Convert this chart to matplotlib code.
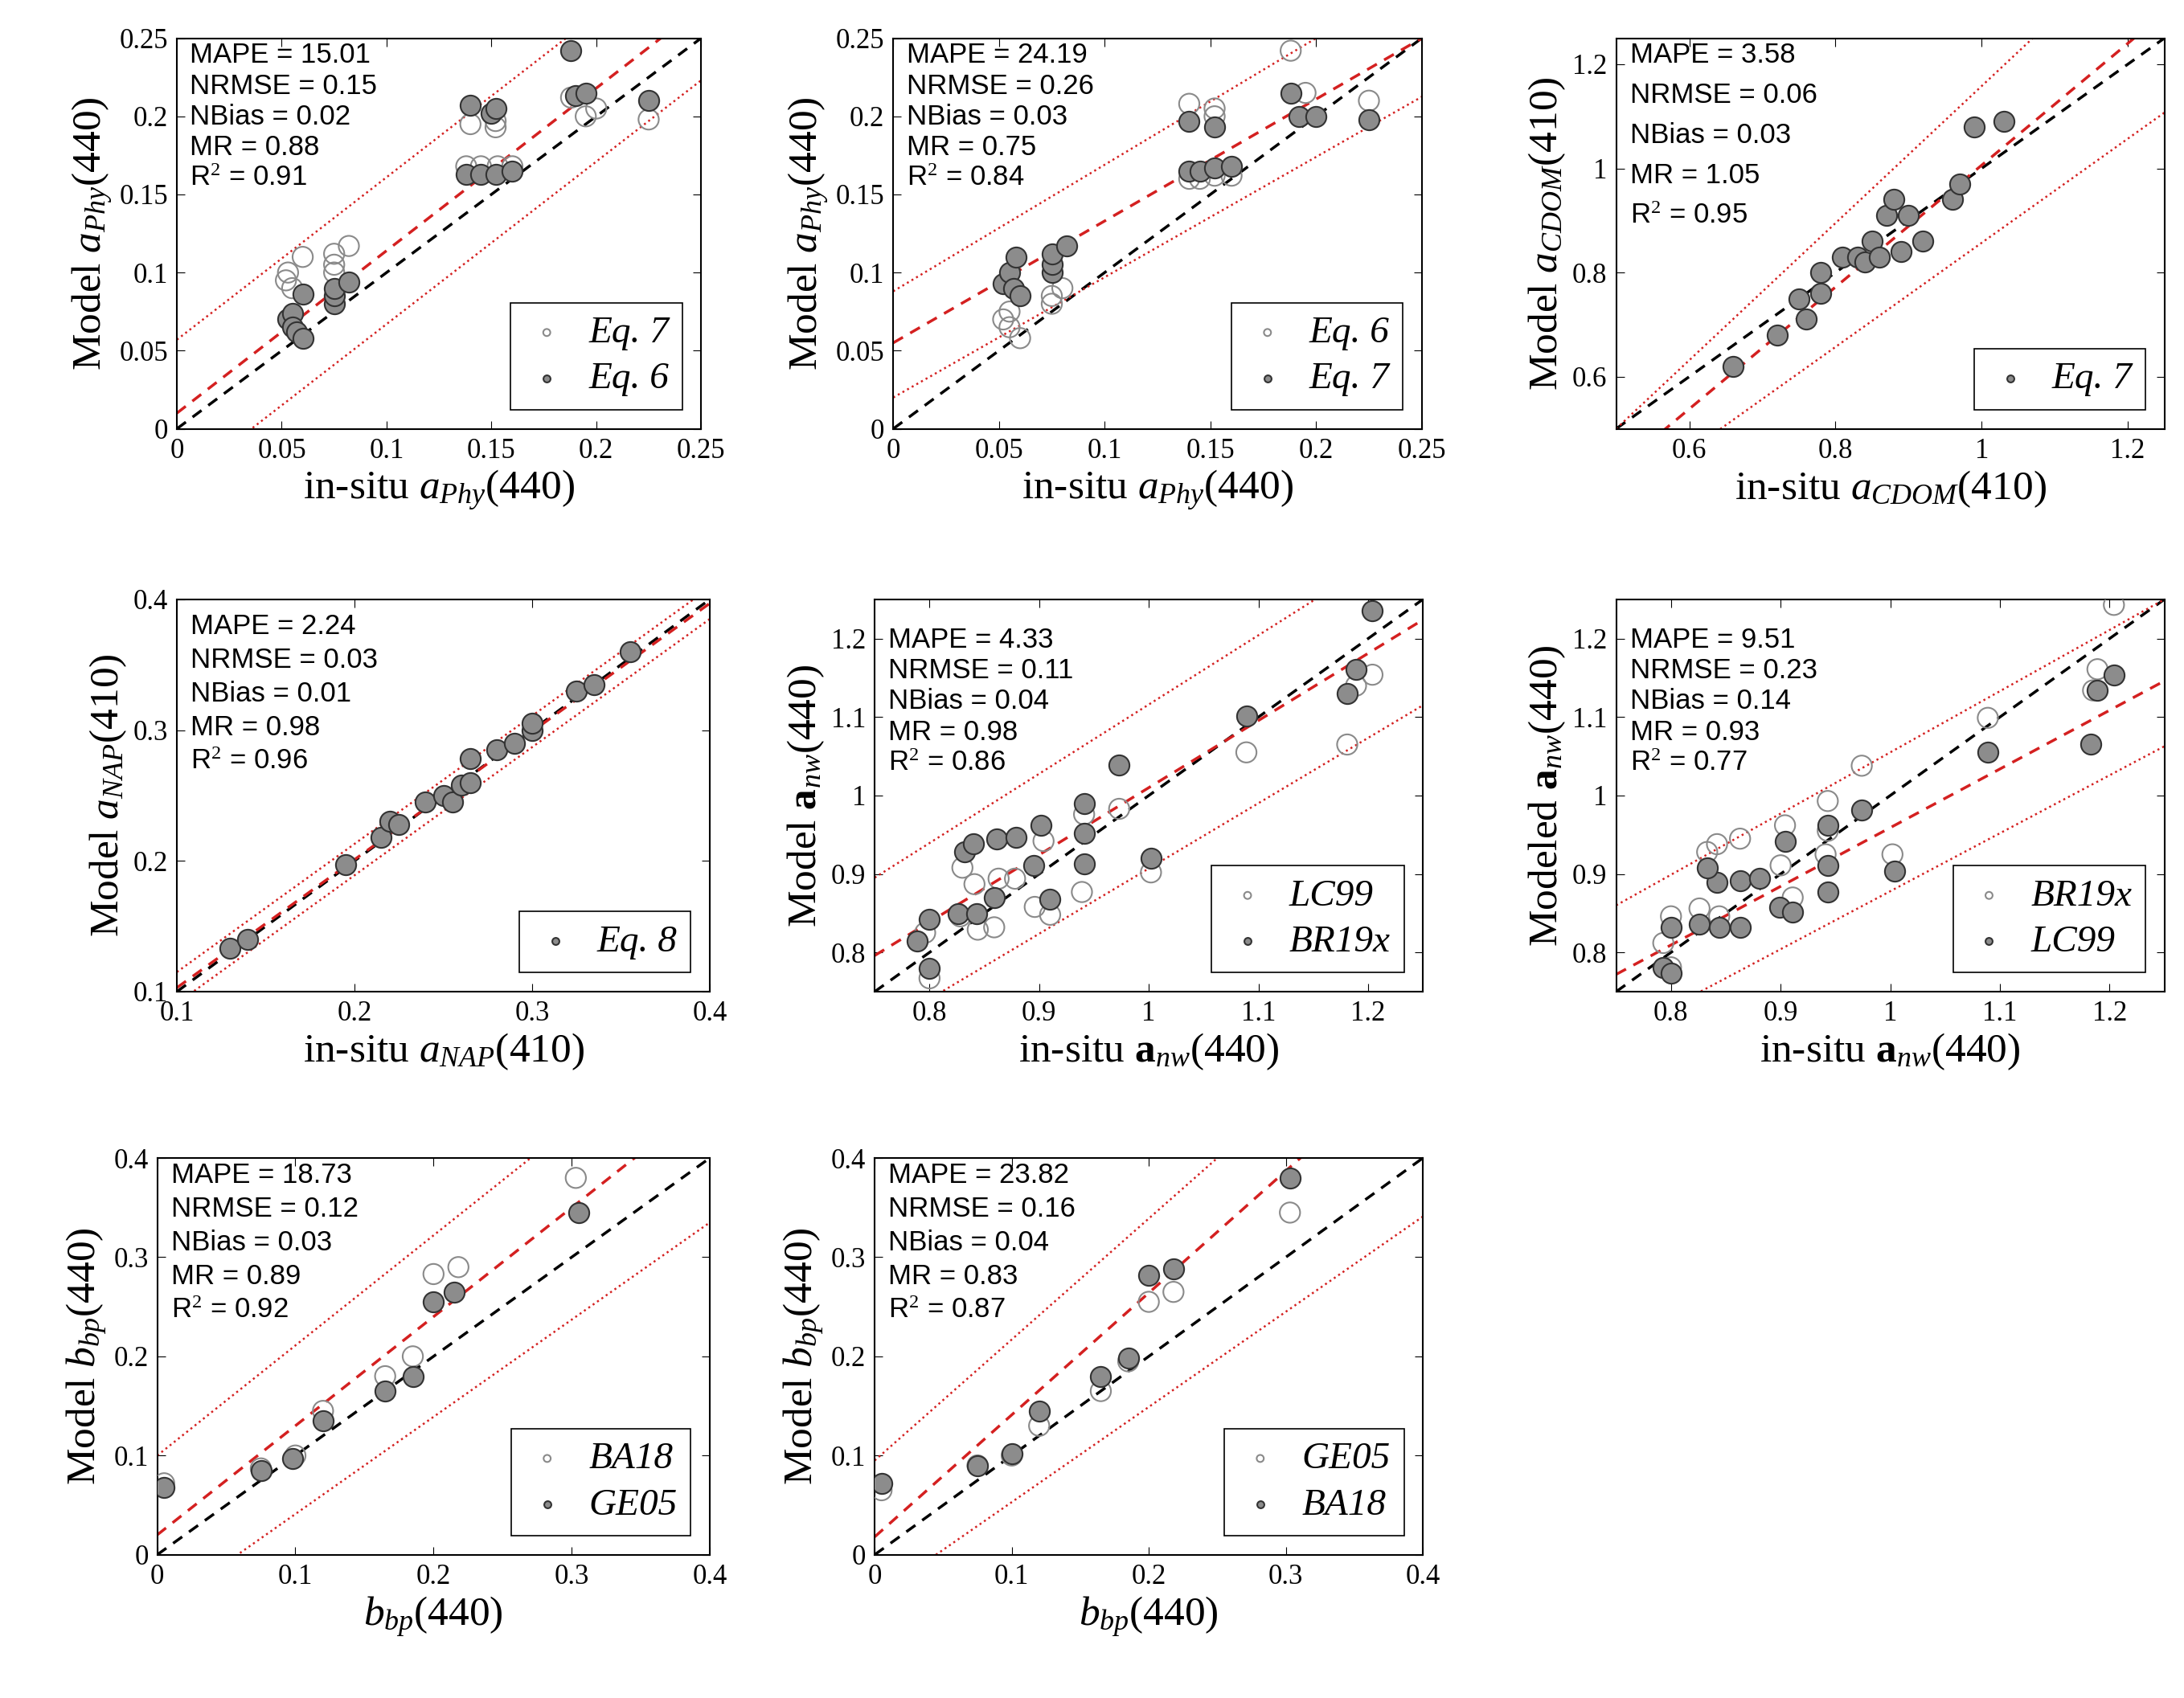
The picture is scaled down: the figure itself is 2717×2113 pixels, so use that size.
import matplotlib
matplotlib.use("Agg")
import matplotlib.pyplot as plt
import numpy as np

plt.rcParams["mathtext.fontset"] = "custom"
plt.rcParams["mathtext.rm"] = "Liberation Serif"
plt.rcParams["mathtext.it"] = "Liberation Serif:italic"
plt.rcParams["mathtext.bf"] = "Liberation Serif:bold"
plt.rcParams["font.family"] = "Liberation Serif"

# ---- panel 1: a_Phy(440), Eq.7 open / Eq.6 filled
p1_open_x = [0.052, 0.053, 0.055, 0.060, 0.075, 0.075, 0.075, 0.082, 0.138, 0.145, 0.153, 0.160, 0.140, 0.152, 0.152, 0.188, 0.195, 0.225, 0.200]
p1_open_y = [0.095, 0.100, 0.090, 0.110, 0.100, 0.105, 0.112, 0.117, 0.168, 0.168, 0.168, 0.168, 0.195, 0.193, 0.197, 0.212, 0.200, 0.198, 0.205]
p1_fill_x = [0.053, 0.055, 0.055, 0.057, 0.060, 0.060, 0.075, 0.075, 0.075, 0.082, 0.138, 0.145, 0.152, 0.160, 0.140, 0.150, 0.152, 0.188, 0.190, 0.195, 0.225]
p1_fill_y = [0.070, 0.074, 0.065, 0.062, 0.058, 0.086, 0.080, 0.085, 0.090, 0.094, 0.163, 0.163, 0.163, 0.165, 0.207, 0.202, 0.205, 0.242, 0.213, 0.215, 0.210]

# ---- panel 2: a_Phy(440), Eq.6 open / Eq.7 filled
p2_open_x = [0.052, 0.055, 0.055, 0.060, 0.075, 0.075, 0.080, 0.140, 0.145, 0.152, 0.160, 0.140, 0.152, 0.152, 0.188, 0.195, 0.225]
p2_open_y = [0.070, 0.065, 0.075, 0.058, 0.080, 0.085, 0.090, 0.160, 0.160, 0.162, 0.162, 0.208, 0.205, 0.200, 0.242, 0.215, 0.210]
p2_fill_x = [0.052, 0.055, 0.057, 0.060, 0.058, 0.075, 0.075, 0.075, 0.082, 0.140, 0.145, 0.152, 0.160, 0.140, 0.152, 0.188, 0.192, 0.200, 0.225]
p2_fill_y = [0.093, 0.100, 0.090, 0.085, 0.110, 0.100, 0.105, 0.112, 0.117, 0.165, 0.165, 0.167, 0.168, 0.197, 0.193, 0.215, 0.200, 0.200, 0.198]

# ---- panel 3: a_CDOM(410), Eq.7
p3_fill_x = [0.66, 0.72, 0.75, 0.76, 0.78, 0.78, 0.81, 0.83, 0.84, 0.85, 0.86, 0.87, 0.88, 0.89, 0.90, 0.92, 0.96, 0.97, 0.99, 1.03]
p3_fill_y = [0.62, 0.68, 0.75, 0.71, 0.80, 0.76, 0.83, 0.83, 0.82, 0.86, 0.83, 0.91, 0.94, 0.84, 0.91, 0.86, 0.94, 0.97, 1.08, 1.09]

# ---- panel 4: a_NAP(410), Eq.8
p4_fill_x = [0.130, 0.140, 0.195, 0.215, 0.220, 0.225, 0.240, 0.250, 0.255, 0.260, 0.265, 0.265, 0.280, 0.290, 0.300, 0.300, 0.325, 0.335, 0.355]
p4_fill_y = [0.133, 0.140, 0.197, 0.218, 0.230, 0.228, 0.245, 0.250, 0.245, 0.258, 0.260, 0.278, 0.285, 0.290, 0.300, 0.305, 0.330, 0.335, 0.360]

# ---- panel 5: a_nw(440), LC99 open / BR19x filled
p5_open_x = [0.800, 0.796, 0.830, 0.841, 0.828, 0.844, 0.859, 0.863, 0.878, 0.896, 0.910, 0.904, 0.939, 0.941, 0.973, 1.002, 1.089, 1.181, 1.189, 1.204]
p5_open_y = [0.767, 0.825, 0.908, 0.887, 0.846, 0.829, 0.832, 0.894, 0.894, 0.858, 0.848, 0.942, 0.877, 0.976, 0.983, 0.902, 1.055, 1.065, 1.140, 1.154]
p5_fill_x = [0.789, 0.800, 0.800, 0.826, 0.843, 0.859, 0.832, 0.840, 0.861, 0.879, 0.902, 0.895, 0.910, 0.941, 0.941, 0.941, 0.973, 1.002, 1.089, 1.181, 1.189, 1.204]
p5_fill_y = [0.815, 0.780, 0.842, 0.849, 0.849, 0.870, 0.928, 0.938, 0.945, 0.947, 0.962, 0.911, 0.868, 0.990, 0.952, 0.913, 1.039, 0.920, 1.101, 1.130, 1.161, 1.236]

# ---- panel 6: a_nw(440), BR19x open / LC99 filled
p6_open_x = [1.204, 1.189, 1.185, 1.089, 0.974, 0.943, 0.943, 0.904, 0.863, 0.842, 0.833, 0.900, 0.941, 1.002, 0.911, 0.826, 0.844, 0.800, 0.793, 0.800]
p6_open_y = [1.243, 1.161, 1.134, 1.099, 1.038, 0.993, 0.955, 0.962, 0.945, 0.938, 0.928, 0.911, 0.925, 0.925, 0.870, 0.856, 0.846, 0.846, 0.812, 0.781]
p6_fill_x = [1.204, 1.189, 1.183, 1.089, 0.974, 0.943, 0.904, 0.943, 0.943, 1.004, 0.863, 0.881, 0.842, 0.833, 0.899, 0.911, 0.826, 0.844, 0.863, 0.800, 0.793, 0.800]
p6_fill_y = [1.154, 1.134, 1.065, 1.055, 0.981, 0.962, 0.942, 0.911, 0.877, 0.904, 0.891, 0.894, 0.889, 0.908, 0.858, 0.851, 0.836, 0.832, 0.832, 0.832, 0.781, 0.774]

# ---- panel 7: b_bp(440), BA18 open / GE05 filled
p7_open_x = [0.005, 0.075, 0.100, 0.120, 0.165, 0.185, 0.200, 0.218, 0.303]
p7_open_y = [0.072, 0.087, 0.100, 0.145, 0.180, 0.200, 0.283, 0.290, 0.380]
p7_fill_x = [0.005, 0.075, 0.098, 0.120, 0.165, 0.185, 0.200, 0.215, 0.305]
p7_fill_y = [0.068, 0.085, 0.097, 0.135, 0.165, 0.180, 0.255, 0.265, 0.345]

# ---- panel 8: b_bp(440), GE05 open / BA18 filled
p8_open_x = [0.005, 0.075, 0.100, 0.120, 0.165, 0.185, 0.200, 0.218, 0.303]
p8_open_y = [0.065, 0.090, 0.100, 0.130, 0.165, 0.195, 0.255, 0.265, 0.345]
p8_fill_x = [0.005, 0.075, 0.100, 0.120, 0.165, 0.185, 0.200, 0.218, 0.303]
p8_fill_y = [0.072, 0.090, 0.102, 0.145, 0.180, 0.198, 0.282, 0.288, 0.380]

# regression lines per panel: (slope, intercept) for fit, upper, lower
fit_lines = [
    [(1.04, 0.010), (1.04, 0.057), (1.04, -0.037)],
    [(0.78, 0.055), (0.81, 0.088), (0.77, 0.020)],
    [(1.17, -0.164), (1.316, -0.158), (1.00, -0.143)],
    [(0.98, 0.005), (0.98, 0.017), (0.98, -0.007)],
    [(0.856, 0.154), (0.883, 0.233), (0.832, 0.075)],
    [(0.748, 0.211), (0.78, 0.275), (0.739, 0.139)],
    [(1.10, 0.020), (1.11, 0.100), (0.98, -0.057)],
    [(1.23, 0.018), (1.22, 0.095), (0.96, -0.043)],
]

stats = [
    ["15.01", "0.15", "0.02", "0.88", "0.91"],
    ["24.19", "0.26", "0.03", "0.75", "0.84"],
    ["3.58", "0.06", "0.03", "1.05", "0.95"],
    ["2.24", "0.03", "0.01", "0.98", "0.96"],
    ["4.33", "0.11", "0.04", "0.98", "0.86"],
    ["9.51", "0.23", "0.14", "0.93", "0.77"],
    ["18.73", "0.12", "0.03", "0.89", "0.92"],
    ["23.82", "0.16", "0.04", "0.83", "0.87"],
]

panels = [
    dict(pos=[0.081, 0.7475, 0.240, 0.230], lim=(0, 0.25), ticks=[0, 0.05, 0.1, 0.15, 0.2, 0.25],
         tl=["0", "0.05", "0.1", "0.15", "0.2", "0.25"],
         open=(p1_open_x, p1_open_y, "Eq. 7"), fill=(p1_fill_x, p1_fill_y, "Eq. 6"),
         xl=r"in-situ $\mathit{a}_{\mathit{Phy}}$(440)", yl=r"Model $\mathit{a}_{\mathit{Phy}}$(440)", sp=1.2, ty=0.99),
    dict(pos=[0.409, 0.7475, 0.242, 0.230], lim=(0, 0.25), ticks=[0, 0.05, 0.1, 0.15, 0.2, 0.25],
         tl=["0", "0.05", "0.1", "0.15", "0.2", "0.25"],
         open=(p2_open_x, p2_open_y, "Eq. 6"), fill=(p2_fill_x, p2_fill_y, "Eq. 7"),
         xl=r"in-situ $\mathit{a}_{\mathit{Phy}}$(440)", yl=r"Model $\mathit{a}_{\mathit{Phy}}$(440)", sp=1.2, ty=0.99),
    dict(pos=[0.740, 0.7475, 0.251, 0.230], lim=(0.5, 1.25), ticks=[0.6, 0.8, 1.0, 1.2],
         tl=["0.6", "0.8", "1", "1.2"],
         open=None, fill=(p3_fill_x, p3_fill_y, "Eq. 7"),
         xl=r"in-situ $\mathit{a}_{\mathit{CDOM}}$(410)", yl=r"Model $\mathit{a}_{\mathit{CDOM}}$(410)", sp=1.65, ty=0.99),
    dict(pos=[0.081, 0.416, 0.244, 0.231], lim=(0.1, 0.4), ticks=[0.1, 0.2, 0.3, 0.4],
         tl=["0.1", "0.2", "0.3", "0.4"],
         open=None, fill=(p4_fill_x, p4_fill_y, "Eq. 8"),
         xl=r"in-situ $\mathit{a}_{\mathit{NAP}}$(410)", yl=r"Model $\mathit{a}_{\mathit{NAP}}$(410)", sp=1.35, ty=0.965),
    dict(pos=[0.4005, 0.416, 0.251, 0.231], lim=(0.75, 1.25), ticks=[0.8, 0.9, 1.0, 1.1, 1.2],
         tl=["0.8", "0.9", "1", "1.1", "1.2"],
         open=(p5_open_x, p5_open_y, "LC99"), fill=(p5_fill_x, p5_fill_y, "BR19x"),
         xl=r"in-situ $\mathbf{a}_{nw}$(440)", yl=r"Model $\mathbf{a}_{nw}$(440)", sp=1.2, ty=0.93),
    dict(pos=[0.740, 0.416, 0.251, 0.231], lim=(0.75, 1.25), ticks=[0.8, 0.9, 1.0, 1.1, 1.2],
         tl=["0.8", "0.9", "1", "1.1", "1.2"],
         open=(p6_open_x, p6_open_y, "BR19x"), fill=(p6_fill_x, p6_fill_y, "LC99"),
         xl=r"in-situ $\mathbf{a}_{nw}\mathit{(440)}$", yl=r"Modeled $\mathbf{a}_{nw}\mathit{(440)}$", sp=1.2, ty=0.93),
    dict(pos=[0.072, 0.0844, 0.253, 0.2336], lim=(0, 0.4), ticks=[0, 0.1, 0.2, 0.3, 0.4],
         tl=["0", "0.1", "0.2", "0.3", "0.4"],
         open=(p7_open_x, p7_open_y, "BA18"), fill=(p7_fill_x, p7_fill_y, "GE05"),
         xl=r"$\mathit{b}_{\mathit{bp}}$(440)", yl=r"Model $\mathit{b}_{\mathit{bp}}$(440)", sp=1.35, ty=0.99),
    dict(pos=[0.4005, 0.0844, 0.251, 0.2336], lim=(0, 0.4), ticks=[0, 0.1, 0.2, 0.3, 0.4],
         tl=["0", "0.1", "0.2", "0.3", "0.4"],
         open=(p8_open_x, p8_open_y, "GE05"), fill=(p8_fill_x, p8_fill_y, "BA18"),
         xl=r"$\mathit{b}_{\mathit{bp}}$(440)", yl=r"Model $\mathit{b}_{\mathit{bp}}$(440)", sp=1.35, ty=0.99),
]

fig = plt.figure(figsize=(27.17, 21.13), dpi=100)

for i, p in enumerate(panels):
    ax = fig.add_axes(p["pos"])
    lo, hi = p["lim"]
    xs = np.array([lo, hi])
    ax.plot(xs, xs, color="black", linestyle=(0, (4, 3)), linewidth=2.5, zorder=2)
    (fs, fi), (us, ui), (ls, li) = fit_lines[i]
    ax.plot(xs, fs * xs + fi, color="#d42020", linestyle=(0, (4, 3)), linewidth=2.5, zorder=2)
    ax.plot(xs, us * xs + ui, color="#d42020", linestyle=":", linewidth=1.8, zorder=2)
    ax.plot(xs, ls * xs + li, color="#d42020", linestyle=":", linewidth=1.8, zorder=2)

    handles = []
    if p["open"] is not None:
        ox, oy, olab = p["open"]
        h = ax.scatter(ox, oy, s=330, facecolors="none", edgecolors="#8a8a8a", linewidths=1.5, label=olab, zorder=3)
        handles.append(h)
    fx, fy, flab = p["fill"]
    h = ax.scatter(fx, fy, s=330, facecolors="#8c8c8c", edgecolors="#333333", linewidths=1.5, label=flab, zorder=4)
    handles.append(h)

    ax.set_xlim(lo, hi)
    ax.set_ylim(lo, hi)
    ax.set_xticks(p["ticks"])
    ax.set_yticks(p["ticks"])
    ax.set_xticklabels(p["tl"])
    ax.set_yticklabels(p["tl"])
    ax.tick_params(direction="in", top=True, right=True, labelsize=25, length=7, pad=8)
    for sp_ in ax.spines.values():
        sp_.set_linewidth(1.5)
    ax.set_xlabel(p["xl"], fontsize=37, labelpad=4)
    ax.set_ylabel(p["yl"], fontsize=37, labelpad=4)

    s = stats[i]
    txt = (f"MAPE = {s[0]}\nNRMSE = {s[1]}\nNBias = {s[2]}\nMR = {s[3]}\n"
           f"R$^2$ = {s[4]}")
    ax.text(0.025, p["ty"], txt, transform=ax.transAxes, va="top", ha="left",
            fontsize=25, family="Liberation Sans", linespacing=p["sp"])

    leg = ax.legend(handles=handles, loc="lower right", markerscale=0.35,
                    handletextpad=0.5, borderpad=0.35, labelspacing=0.3, handlelength=1.2,
                    fancybox=False, edgecolor="black", framealpha=1,
                    prop={"family": "Liberation Serif", "style": "italic", "size": 34})
    leg.get_frame().set_linewidth(1.2)

fig.savefig("out.png", dpi=100)
